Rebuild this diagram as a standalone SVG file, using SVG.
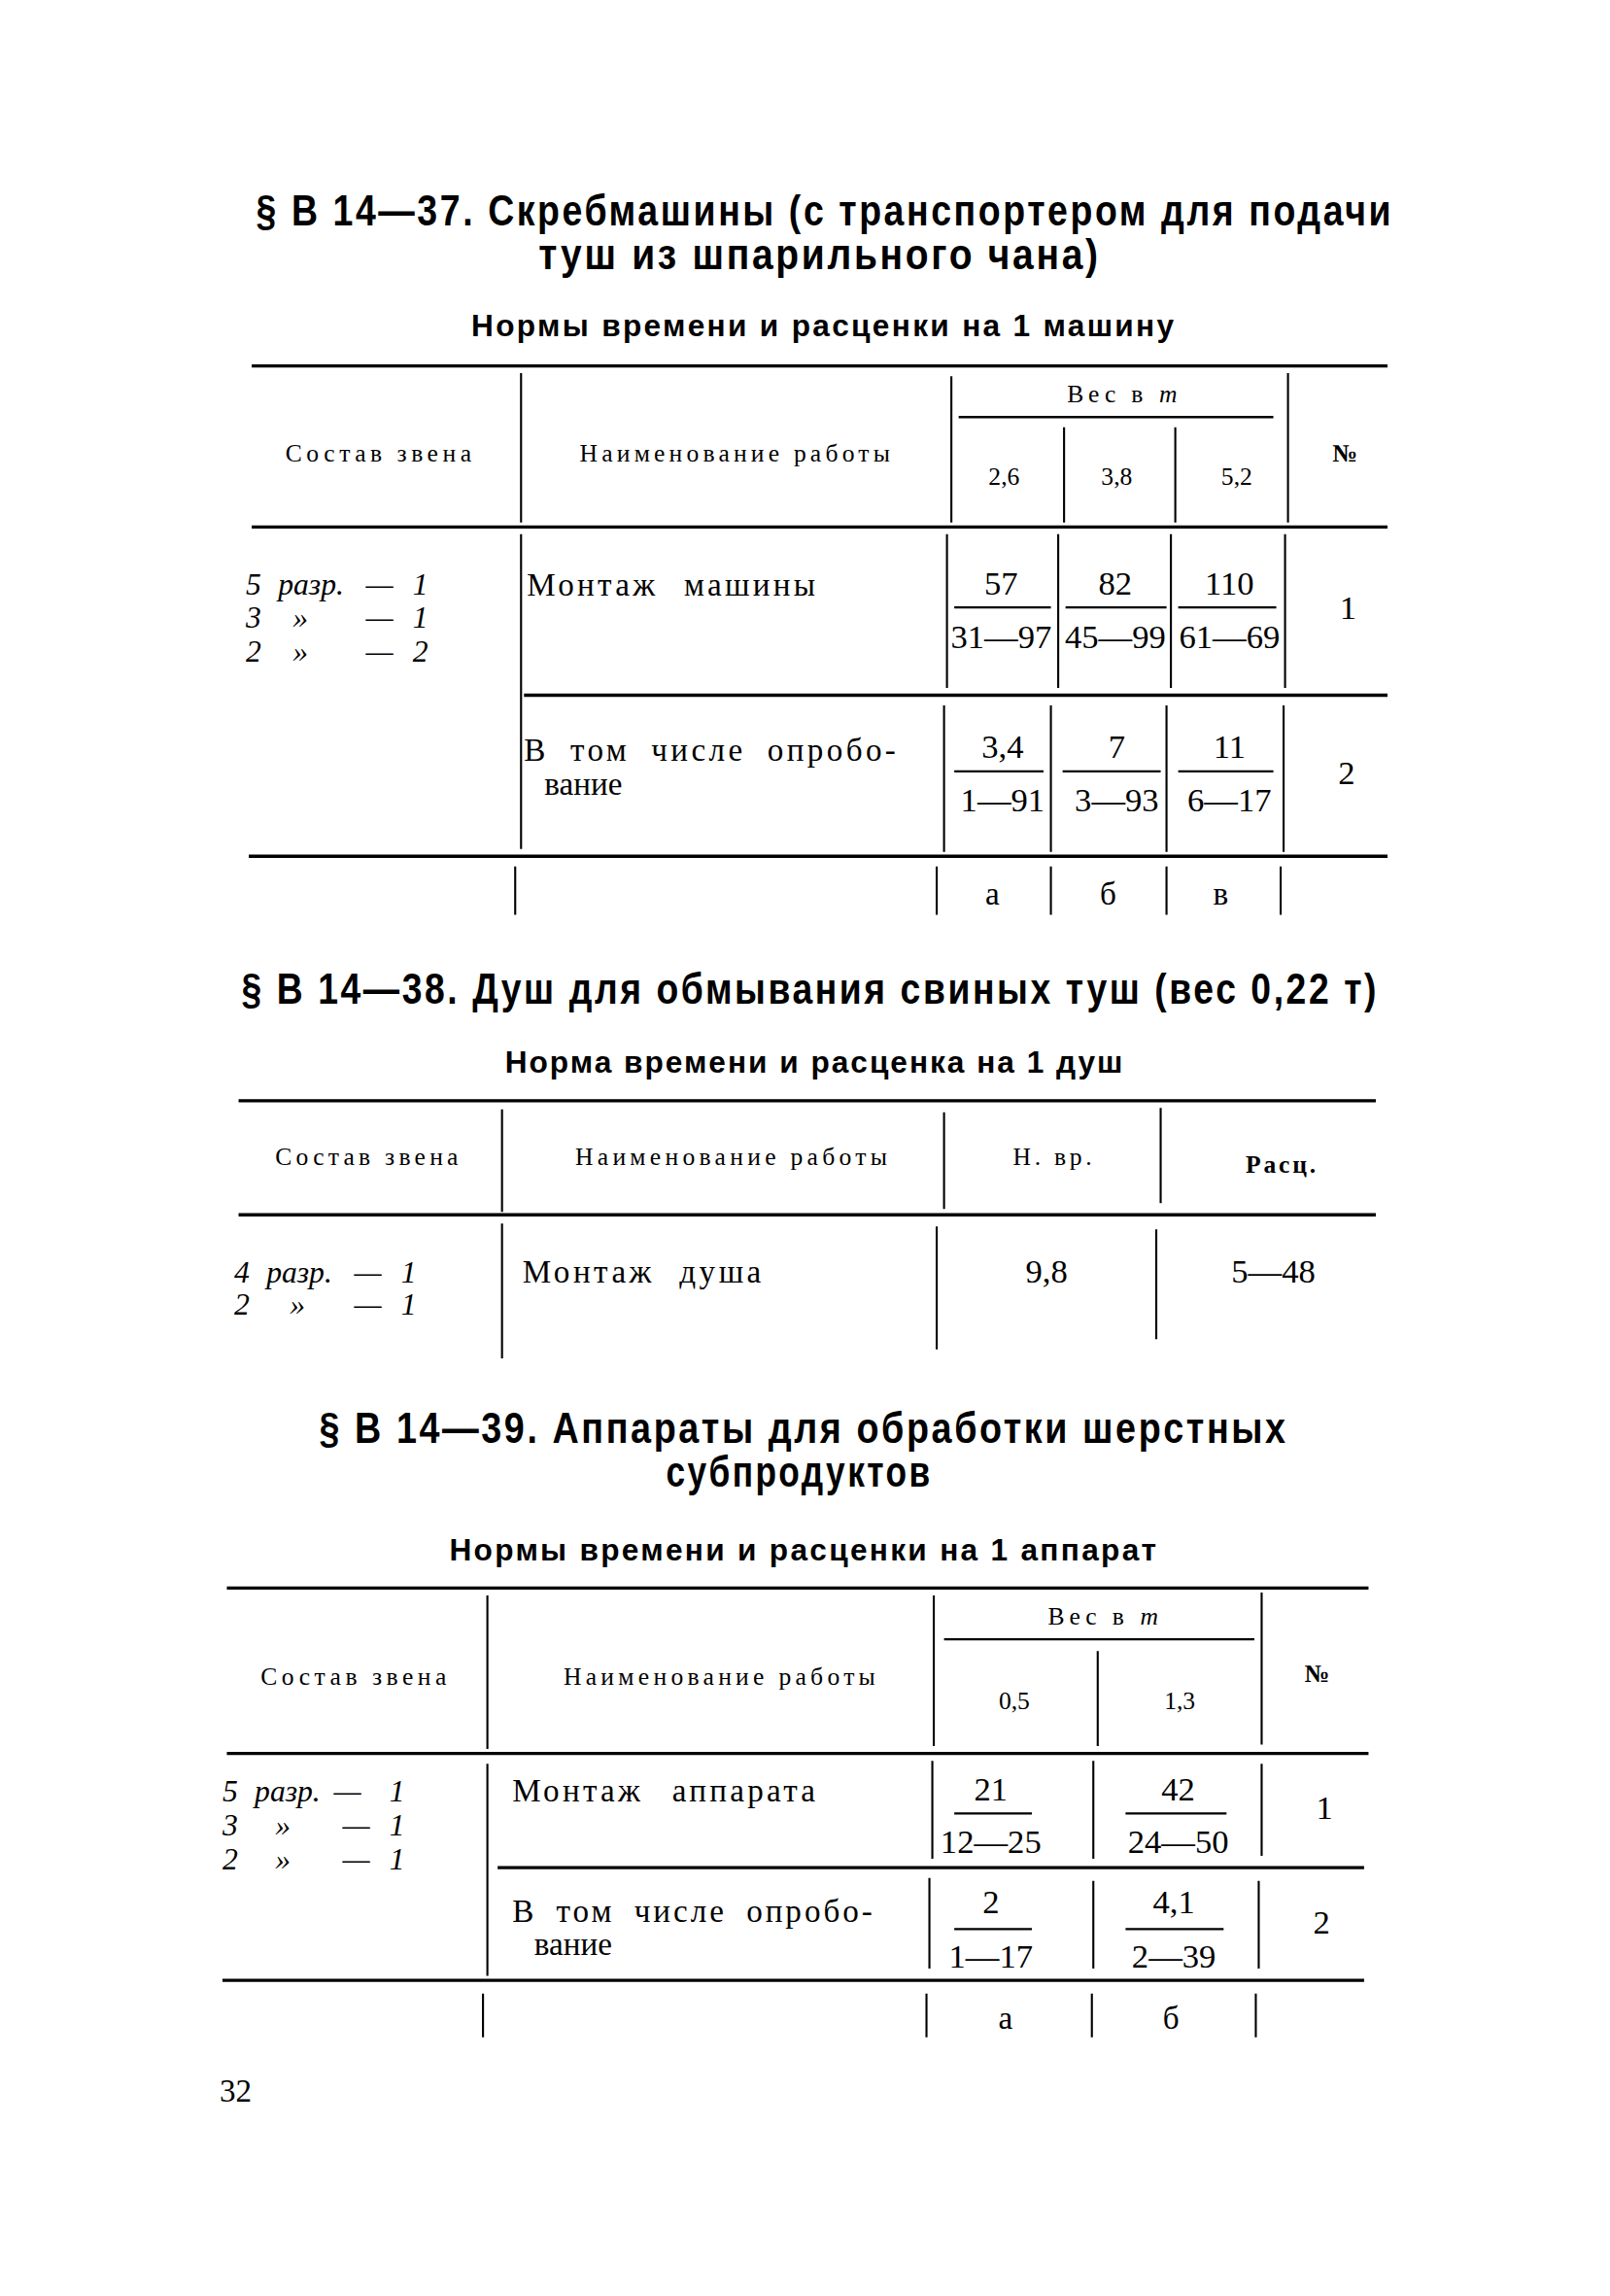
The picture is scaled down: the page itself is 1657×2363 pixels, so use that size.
<svg xmlns="http://www.w3.org/2000/svg" width="1657" height="2363" viewBox="0 0 1657 2363">
<style>
.t{font-family:"Liberation Sans",Arial,sans-serif;font-weight:bold;font-size:29px;fill:#000}
.s{font-family:"Liberation Sans",Arial,sans-serif;font-weight:bold;font-size:21px;fill:#000}
.h{font-family:"Liberation Serif","Times New Roman",serif;font-size:17px;fill:#000}
.hi{font-family:"Liberation Serif","Times New Roman",serif;font-style:italic;font-size:17px;fill:#000}
.b{font-family:"Liberation Serif","Times New Roman",serif;font-size:22px;fill:#000}
.n{font-family:"Liberation Serif","Times New Roman",serif;font-size:23px;fill:#000;text-anchor:middle}
.i{font-family:"Liberation Serif","Times New Roman",serif;font-style:italic;font-size:21px;fill:#000}
.c{text-anchor:middle}
.r{stroke:#000;stroke-width:2.2;fill:none}
.v{stroke:#000;stroke-width:1.4;fill:none}
.f{stroke:#000;stroke-width:1.6;fill:none}
</style>
<rect width="1657" height="2363" fill="#fff"/>
<g transform="scale(1.50636)">
<!-- Section 1 -->
<g id="title1">
<text class="t" x="175" y="154" textLength="777" lengthAdjust="spacingAndGlyphs" letter-spacing="2">§ В 14—37. Скребмашины (с транспортером для подачи</text>
<text class="t" x="368" y="184" textLength="384" lengthAdjust="spacingAndGlyphs" letter-spacing="2">туш из шпарильного чана)</text>
<text class="s" x="322" y="230" textLength="480">Нормы времени и расценки на 1 машину</text>
</g>
<g id="table1">
<path class="r" d="M172 250H948M172 360H948M358 475H948M170 585H948"/>
<path class="f" d="M655 285H870"/>
<path class="v" d="M356 255V357M650 257V357M880 255V357M727 292V357M803 292V357"/>
<path class="v" d="M356 365V580M647 365V470M723 365V470M800 365V470M878 365V470"/>
<path class="v" d="M645 482V582M718 482V582M797 482V582M877 482V582"/>
<path class="v" d="M352 592V625M640 592V625M718 592V625M797 592V625M875 592V625"/>
<text class="h" x="195" y="315" textLength="127">Состав звена</text>
<text class="h" x="396" y="315" textLength="212">Наименование работы</text>
<text class="h" x="729" y="275" textLength="52">Вес в</text>
<text class="hi" x="792" y="275">т</text>
<text class="h c" x="686" y="331">2,6</text>
<text class="h c" x="763" y="331">3,8</text>
<text class="h c" x="845" y="331">5,2</text>
<text class="h c" x="919" y="315" font-weight="bold">№</text>
<text class="i" x="168" y="406">5</text><text class="i" x="190" y="406">разр.</text><text class="i" x="250" y="406">—</text><text class="i" x="282" y="406">1</text>
<text class="i" x="168" y="429">3</text><text class="i" x="200" y="429">»</text><text class="i" x="250" y="429">—</text><text class="i" x="282" y="429">1</text>
<text class="i" x="168" y="452">2</text><text class="i" x="200" y="452">»</text><text class="i" x="250" y="452">—</text><text class="i" x="282" y="452">2</text>
<text class="b" x="360" y="407" word-spacing="10" textLength="197">Монтаж машины</text>
<text class="n" x="684" y="406">57</text><path class="f" d="M652 415H718"/><text class="n" x="684" y="443">31—97</text>
<text class="n" x="762" y="406">82</text><path class="f" d="M728 415H797"/><text class="n" x="762" y="443">45—99</text>
<text class="n" x="840" y="406">110</text><path class="f" d="M805 415H872"/><text class="n" x="840" y="443">61—69</text>
<text class="n" x="921" y="423">1</text>
<text class="b" x="358" y="520" word-spacing="7" textLength="254">В том числе опробо-</text>
<text class="b" x="372" y="543">вание</text>
<text class="n" x="685" y="518">3,4</text><path class="f" d="M652 527H713"/><text class="n" x="685" y="554">1—91</text>
<text class="n" x="763" y="518">7</text><path class="f" d="M726 527H793"/><text class="n" x="763" y="554">3—93</text>
<text class="n" x="840" y="518">11</text><path class="f" d="M805 527H870"/><text class="n" x="840" y="554">6—17</text>
<text class="n" x="920" y="536">2</text>
<text class="b c" x="678" y="618">а</text>
<text class="b c" x="757" y="618">б</text>
<text class="b c" x="834" y="618">в</text>
</g>
<!-- Section 2 -->
<g id="title2">
<text class="t" x="165" y="686" textLength="777" lengthAdjust="spacingAndGlyphs" letter-spacing="2">§ В 14—38. Душ для обмывания свиных туш (вес 0,22 т)</text>
<text class="s" x="345" y="733" textLength="422">Норма времени и расценка на 1 душ</text>
</g>
<g id="table2">
<path class="r" d="M163 752H940M163 830H940"/>
<path class="v" d="M343 758V828M645 760V826M793 757V822"/>
<path class="v" d="M343 836V928M640 838V922M790 840V915"/>
<text class="h" x="188" y="796" textLength="125">Состав звена</text>
<text class="h" x="393" y="796" textLength="213">Наименование работы</text>
<text class="h" x="692" y="796" textLength="54">Н. вр.</text>
<text class="h" x="851" y="801" font-weight="bold" textLength="48">Расц.</text>
<text class="i" x="160" y="876">4</text><text class="i" x="182" y="876">разр.</text><text class="i" x="242" y="876">—</text><text class="i" x="274" y="876">1</text>
<text class="i" x="160" y="898">2</text><text class="i" x="198" y="898">»</text><text class="i" x="242" y="898">—</text><text class="i" x="274" y="898">1</text>
<text class="b" x="357" y="876" word-spacing="9" textLength="163">Монтаж душа</text>
<text class="n" x="715" y="876">9,8</text>
<text class="n" x="870" y="876">5—48</text>
</g>
<!-- Section 3 -->
<g id="title3">
<text class="t" x="218" y="986" textLength="662" lengthAdjust="spacingAndGlyphs" letter-spacing="2">§ В 14—39. Аппараты для обработки шерстных</text>
<text class="t" x="455" y="1016" textLength="182" lengthAdjust="spacingAndGlyphs" letter-spacing="2">субпродуктов</text>
<text class="s" x="307" y="1066" textLength="483">Нормы времени и расценки на 1 аппарат</text>
</g>
<g id="table3">
<path class="r" d="M155 1085H935M155 1198H935M340 1276H932M152 1353H932"/>
<path class="f" d="M645 1120H857"/>
<path class="v" d="M333 1090V1195M638 1090V1193M862 1088V1192M750 1128V1193"/>
<path class="v" d="M333 1205V1350M637 1203V1270M747 1203V1270M862 1205V1268"/>
<path class="v" d="M635 1283V1345M747 1285V1345M860 1285V1345"/>
<path class="v" d="M330 1362V1392M633 1362V1392M746 1362V1392M858 1362V1392"/>
<text class="h" x="716" y="1110" textLength="52">Вес в</text>
<text class="hi" x="779" y="1110">т</text>
<text class="h" x="178" y="1151" textLength="127">Состав звена</text>
<text class="h" x="385" y="1151" textLength="213">Наименование работы</text>
<text class="h c" x="693" y="1168">0,5</text>
<text class="h c" x="806" y="1168">1,3</text>
<text class="h c" x="900" y="1149" font-weight="bold">№</text>
<text class="i" x="152" y="1231">5</text><text class="i" x="174" y="1231">разр.</text><text class="i" x="228" y="1231">—</text><text class="i" x="266" y="1231">1</text>
<text class="i" x="152" y="1254">3</text><text class="i" x="188" y="1254">»</text><text class="i" x="234" y="1254">—</text><text class="i" x="266" y="1254">1</text>
<text class="i" x="152" y="1277">2</text><text class="i" x="188" y="1277">»</text><text class="i" x="234" y="1277">—</text><text class="i" x="266" y="1277">1</text>
<text class="b" x="350" y="1231" word-spacing="12" textLength="207">Монтаж аппарата</text>
<text class="n" x="677" y="1230">21</text><path class="f" d="M652 1239H705"/><text class="n" x="677" y="1266">12—25</text>
<text class="n" x="805" y="1230">42</text><path class="f" d="M769 1239H838"/><text class="n" x="805" y="1266">24—50</text>
<text class="n" x="905" y="1243">1</text>
<text class="b" x="350" y="1313" word-spacing="6" textLength="246">В том числе опробо-</text>
<text class="b" x="365" y="1336">вание</text>
<text class="n" x="677" y="1307">2</text><path class="f" d="M652 1318H705"/><text class="n" x="677" y="1344">1—17</text>
<text class="n" x="802" y="1307">4,1</text><path class="f" d="M769 1318H836"/><text class="n" x="802" y="1344">2—39</text>
<text class="n" x="903" y="1321">2</text>
<text class="b c" x="687" y="1386">а</text>
<text class="b c" x="800" y="1386">б</text>
</g>
<text id="page" class="b" x="150" y="1436">32</text>
</g>
</svg>
